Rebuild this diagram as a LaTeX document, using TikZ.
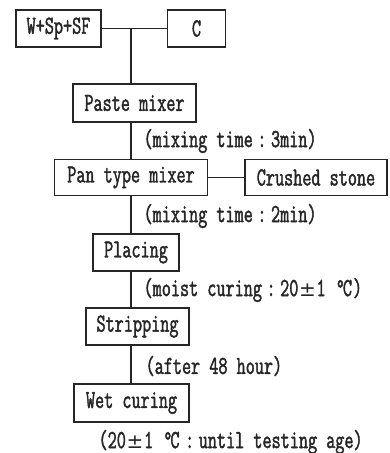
\documentclass[tikz,border=0pt]{standalone}
\usepackage{fontspec}
\newfontfamily\tw{Latin Modern Mono}[FakeStretch=0.68,FakeBold=1.6]
\newfontfamily\djv{DejaVu Sans}
\newcommand\fw[1]{\makebox[2\fontcharwd\font`0]{#1}}
\newcommand\pmsym{\fw{\djv\fontsize{20}{22}\selectfont ±}}
\newcommand\degc{\fw{°\kern-2pt C}}
\begin{document}
\begin{tikzpicture}[x=1pt,y=1pt,
  line width=1.2pt, draw=black!85,
  box/.style={draw, line width=1.3pt, inner sep=0pt, font=\fontsize{26}{28}\tw, text=black!85},
  lbl/.style={anchor=west, inner sep=0pt, font=\fontsize{26}{28}\tw, text=black!85}]
\useasboundingbox (0,0) rectangle (390,-453);
\node[box, minimum width=85pt, minimum height=37pt] (wsp) at (58.5,-28.5) {W+Sp+SF};
\node[box, minimum width=58pt, minimum height=37pt] (c) at (196.5,-28.5) {C};
\node[box, minimum width=123pt, minimum height=38pt] (paste) at (134.5,-103) {Paste mixer};
\node[box, minimum width=153pt, minimum height=36pt] (pan) at (131,-177.5) {Pan type mixer};
\node[box, minimum width=142pt, minimum height=36pt] (crush) at (316,-177.5) {Crushed stone};
\node[box, minimum width=86pt, minimum height=37pt] (placing) at (136,-252.5) {Placing};
\node[box, minimum width=103pt, minimum height=37pt] (strip) at (137.5,-326.5) {Stripping};
\node[box, minimum width=115pt, minimum height=38pt] (wet) at (131.5,-403) {Wet curing};
\coordinate (j) at (131,-28.5);
\node[lbl] (l1) at (143,-141) {(mixing time\fw{:}3min)};
\node[lbl] (l2) at (143,-216) {(mixing time\fw{:}2min)};
\node[lbl] (l3) at (143,-290) {(moist curing\fw{:}20\pmsym 1 \degc)};
\node[lbl] (l4) at (145,-366) {(after 48 hour)};
\node[lbl] (l5) at (98,-442) {(20\pmsym 1 \degc\fw{:}until testing age)};
\draw (wsp.east) -- (c.west);
\draw (j) -- (paste.north -| j);
\draw (paste.south -| j) -- (pan.north -| j);
\draw (pan.east) -- (crush.west);
\draw (pan.south -| j) -- (placing.north -| j);
\draw (placing.south -| j) -- (strip.north -| j);
\draw (strip.south -| j) -- (wet.north -| j);
\end{tikzpicture}
\end{document}
